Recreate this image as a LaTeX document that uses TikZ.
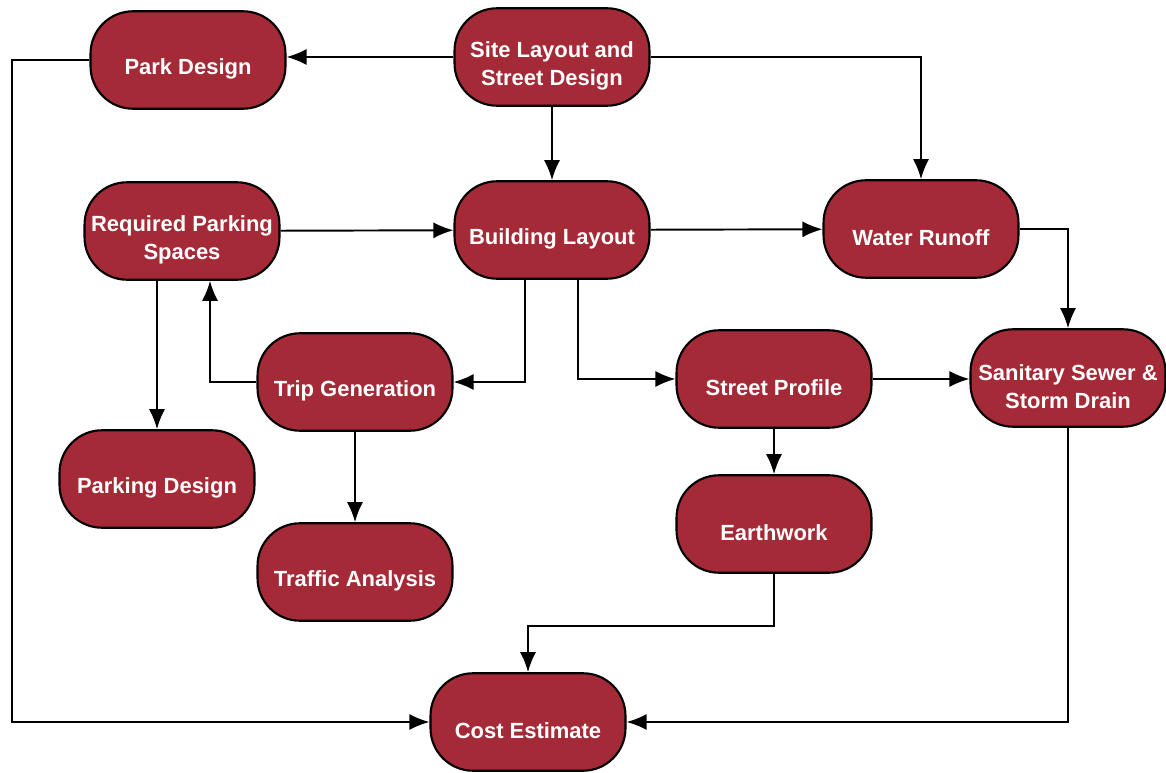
\documentclass[tikz,border=0pt]{standalone}
\usepackage{fontspec}
\setmainfont{Liberation Sans}
\usetikzlibrary{arrows.meta,calc}

\definecolor{boxred}{HTML}{A32A36}
\newcommand{\tup}{\rule{0pt}{19pt}}

\begin{document}
\begin{tikzpicture}[x=0.02cm,y=-0.02cm,
    task/.style={draw=black,line width=1.2pt,fill=boxred,rounded corners=0.85cm,
      minimum width=3.9cm,minimum height=1.95cm,align=center,text=white,
      font=\fontsize{12.5}{16}\selectfont\bfseries},
    link/.style={-{Latex[length=4mm,width=3.2mm]},line width=1.1pt}]
    \useasboundingbox (0,0) rectangle (1166,773);
    % boxes
    \node[task] (site) at (552,57) {\tup Site Layout and\\Street Design};
    \node[task] (park) at (188,60) {\tup Park Design};
    \node[task] (build) at (552,230) {\tup Building Layout};
    \node[task] (req) at (182,231) {\tup Required Parking\\Spaces};
    \node[task] (water) at (921,229) {\tup Water Runoff};
    \node[task] (trip) at (355,382) {\tup Trip Generation};
    \node[task] (street) at (774,379) {\tup Street Profile};
    \node[task] (san) at (1068,378) {\tup Sanitary Sewer \&\\Storm Drain};
    \node[task] (pdes) at (157,479) {\tup Parking Design};
    \node[task] (traffic) at (355,572) {\tup Traffic Analysis};
    \node[task] (earth) at (774,524) {\tup Earthwork};
    \node[task] (cost) at (528,722) {\tup Cost Estimate};
    % connectors
    \draw[link] (site.west) -- (site.west -| park.east);
    \draw[link] (site) -- (build);
    \draw[link] (site.east) -| (water.north);
    \draw[link] (req) -- (build);
    \draw[link] (build) -- (water);
    \draw[link] (water.east) -| (san.north);
    \draw[link] ($(build.south)+(-27,0)$) |- (trip.east);
    \draw[link] ($(build.south)+(26,0)$) |- (street.west);
    \draw[link] (trip.west) -| ($(req.south)+(28,0)$);
    \draw[link] (req.south -| pdes.north) -- (pdes.north);
    \draw[link] (trip) -- (traffic);
    \draw[link] (street.east) -- (street.east -| san.west);
    \draw[link] (street) -- (earth);
    \draw[link] (earth.south) -- ++(0,52) -| (cost.north);
    \draw[link] (park.west) -- ++(-77,0) |- (cost.west);
    \draw[link] (san.south) |- (cost.east);
\end{tikzpicture}
\end{document}
